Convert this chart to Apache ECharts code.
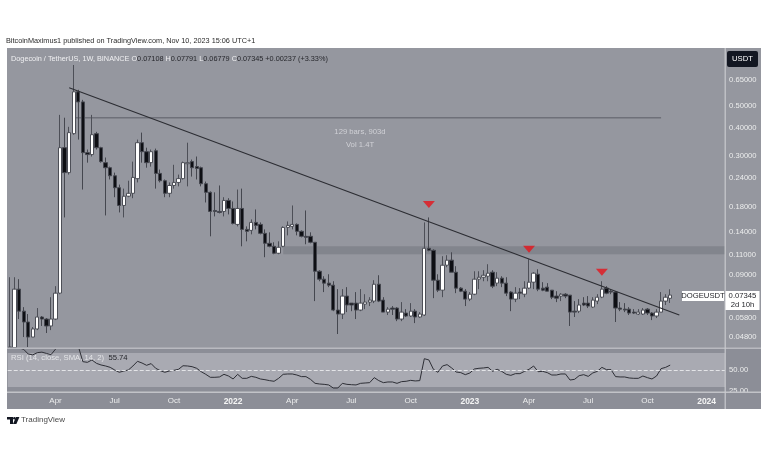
<!DOCTYPE html>
<html>
<head>
<meta charset="utf-8">
<style>html,body{margin:0;background:#fff}#main{width:768px;height:463px}</style>
<script src="https://cdn.jsdelivr.net/npm/echarts@6/dist/echarts.min.js"></script>
</head>
<body>
<div id="main"></div>
<script>
// weekly bars
var opens = [.0431,.0431,.0780,.0624,.0559,.0480,.0521,.0588,.0576,.0537,.0576,.0749,.327,.254,.377,.576,.520,.311,.305,.377,.327,.281,.267,.246,.218,.1821,.200,.206,.239,.344,.314,.281,.317,.252,.234,.206,.223,.230,.239,.278,.284,.270,.267,.227,.208,.1731,.1714,.1714,.1916,.1767,.1503,.1767,.1429,.1415,.1534,.1503,.1373,.1241,.1204,.1122,.1204,.1458,.1473,.1503,.1401,.1332,.1332,.1254,.0935,.0863,.0829,.0812,.0631,.0606,.0727,.0677,.0677,.0631,.0670,.0684,.0691,.0820,.0698,.0618,.0644,.0644,.0576,.0612,.0594,.0624,.0588,.0600,.1180,.1156,.0854,.0772,.0994,.1046,.0926,.0788,.0764,.0705,.0741,.0863,.0880,.0889,.0926,.0829,.0872,.0829,.0757,.0705,.0757,.0741,.0788,.0837,.0907,.0788,.0796,.0772,.0727,.0727,.0741,.0734,.0624,.0624,.0677,.0677,.0650,.0691,.0719,.0788,.0764,.0757,.0644,.0637,.0637,.0618,.0606,.0606,.0637,.0612,.0594,.0618,.0691,.07108];
var closes = [.0434,.0780,.0624,.0559,.0480,.0521,.0588,.0576,.0537,.0576,.0749,.327,.254,.381,.576,.520,.311,.305,.373,.327,.284,.267,.246,.218,.1821,.200,.206,.242,.344,.314,.281,.314,.252,.234,.206,.223,.230,.239,.281,.281,.267,.265,.227,.208,.1714,.1714,.1697,.1916,.1767,.1518,.1767,.1429,.1401,.1534,.1488,.1373,.1241,.1204,.1122,.1192,.1458,.1488,.1503,.1401,.1332,.1318,.1254,.0935,.0863,.0829,.0812,.0631,.0606,.0727,.0664,.0664,.0631,.0677,.0684,.0698,.0820,.0691,.0618,.0637,.0637,.0576,.0618,.0594,.0624,.0588,.0606,.1180,.1156,.0854,.0772,.0994,.1046,.0926,.0788,.0764,.0705,.0741,.0863,.0880,.0898,.0917,.0804,.0872,.0829,.0749,.0705,.0749,.0749,.0788,.0837,.0917,.0780,.0772,.0764,.0719,.0712,.0741,.0727,.0618,.0618,.0664,.0664,.0657,.0698,.0719,.0780,.0749,.0757,.0644,.0637,.0631,.0612,.0612,.0618,.0631,.0612,.0594,.0618,.0691,.0719,.07345];
var lows = [.0431,.0431,.0576,.0480,.0434,.0480,.0515,.0537,.0500,.0515,.0570,.0741,.1613,.249,.373,.355,.214,.281,.299,.321,.281,.1646,.237,.198,.1697,.1613,.198,.196,.230,.281,.267,.270,.216,.230,.198,.198,.216,.221,.237,.221,.244,.237,.221,.1877,.1332,.1630,.1680,.1630,.1663,.1503,.1473,.1204,.1266,.1359,.1429,.1359,.1078,.1192,.1111,.1111,.1192,.1345,.1429,.1345,.1318,.1229,.1241,.0691,.0845,.0757,.0796,.0624,.0495,.0576,.0618,.0624,.0576,.0624,.0637,.0657,.0677,.0684,.0618,.0600,.0600,.0564,.0564,.0588,.0588,.0553,.0582,.0594,.1145,.0712,.0757,.0719,.0974,.0926,.0749,.0757,.0657,.0691,.0734,.0780,.0845,.0845,.0788,.0804,.0796,.0727,.0624,.0684,.0705,.0719,.0780,.0780,.0764,.0764,.0764,.0705,.0684,.0691,.0712,.0537,.0588,.0612,.0657,.0644,.0644,.0670,.0712,.0741,.0741,.0559,.0624,.0618,.0600,.0606,.0600,.0600,.0600,.0570,.0582,.0618,.0664,.06779];
var highs = [.0880,.0880,.0863,.0650,.0606,.0531,.0644,.0594,.0582,.0719,.0804,.456,.443,.404,.756,.588,.531,.321,.456,.384,.330,.296,.270,.254,.225,.216,.234,.284,.355,.381,.327,.321,.324,.262,.237,.230,.275,.249,.284,.344,.290,.299,.270,.232,.210,.208,.223,.198,.196,.1896,.214,.216,.1473,.1581,.1749,.1534,.1429,.1387,.1254,.1266,.1473,.1549,.1821,.1518,.1415,.1731,.1387,.1254,.0945,.0889,.0907,.0845,.0780,.0780,.0796,.0677,.0757,.0780,.0741,.0719,.0854,.0898,.0719,.0650,.0657,.0650,.0684,.0637,.0677,.0637,.0618,.1534,.1613,.1168,.0907,.1089,.1100,.1133,.0984,.0796,.0780,.0757,.0935,.0935,.0945,.1004,.0945,.0926,.0889,.0880,.0764,.0796,.0788,.0845,.1056,.0926,.0954,.0837,.0829,.0772,.0764,.0749,.0749,.0734,.0691,.0705,.0719,.0727,.0719,.0741,.0845,.0804,.0780,.0764,.0684,.0677,.0650,.0637,.0637,.0644,.0644,.0618,.0637,.0757,.0741,.07791];
var rsiValues = [82,80,76,74.3,68.8,67.8,70.4,71,69.5,68,74.5,90,85,87,90,78,59.8,59,61.8,57.8,55.9,54.7,53.1,50,47.3,48.8,50,54.7,60.2,58.2,55.5,57.5,52,49.2,47.3,48.8,49.6,50.8,55,54.7,53.9,52,48,44.9,41.4,41.4,41.8,44.9,42.9,39.4,44.9,40.2,40.2,42.5,41.4,39.4,38.6,37.5,36.7,40.2,44.9,45.3,45.3,44.1,42.2,42.2,39,34.3,33.5,33.1,32.4,28.8,28.8,34.3,33.1,32.7,32.4,34.3,34.7,35.1,41,37.5,35.1,35.9,35.9,34.3,36.3,36.7,37.8,37.1,37.5,63.3,61.8,50.8,47.3,54.7,56.3,52.4,47.6,46.9,44.5,46.5,51.2,52,52.4,53.1,48.4,50.8,48.4,44.9,43.7,45.7,45.7,48.4,50.8,54.7,48,48.4,46.9,44.1,44.1,45.3,45.3,38.2,39,43.3,44.5,42.5,46.5,48.4,53.1,50.4,50.4,42.2,41.8,41.8,40.6,40.2,40.2,42.9,41,39.4,42.9,51.6,53.1,55.74];

var weekCount = 158; // includes the empty weeks right of the last bar
var tickWeeks = [10,23,36,49,62,75,88,101,114,127,140,153];
var tickTexts = ['Apr','Jul','Oct','2022','Apr','Jul','Oct','2023','Apr','Jul','Oct','2024'];
var priceTicks = [0.65,0.5,0.4,0.3,0.24,0.18,0.14,0.11,0.09,0.058,0.048];
var rsiTicks = [25,50];
var trendLine = [[13,0.600],[147,0.0600]];
var measureLine = [[14,0.443],[143,0.443]];
var resistanceZone = [60,157,0.1204,0.1111];
var redMarkers = [[92,0.184],[114,0.1168],[130,0.0926]];

var categories = [];
for (var w = 0; w < weekCount; w++) {
    categories.push(new Date(Date.UTC(2021, 0, 25 + w * 7)).toISOString().slice(0, 10));
}
var candles = opens.map(function (o, i) { return [o, closes[i], lows[i], highs[i]]; });

var FONT = 'Liberation Sans';
var LIGHT = '#eceded';
var PANEL = '#95979f';
var DARKER = '#8c8e97';

var chart = echarts.init(document.getElementById('main'), null, { renderer: 'canvas' });
chart.setOption({
    animation: false,
    textStyle: { fontFamily: FONT },
    grid: [
        { left: 7.72, right: 40.9, top: 48, height: 300 },
        { left: 7.72, right: 40.9, top: 349, height: 43 }
    ],
    xAxis: [
        { type: 'category', gridIndex: 0, data: categories, boundaryGap: true, axisLine: { show: false }, axisTick: { show: false }, axisLabel: { show: false }, splitLine: { show: false } },
        {
            type: 'category', gridIndex: 1, data: categories, boundaryGap: true, z: 75,
            axisLine: { show: false }, axisTick: { show: false }, splitLine: { show: false },
            axisLabel: {
                margin: 5, fontSize: 8, color: LIGHT, hideOverlap: false,
                interval: function (i) { return tickWeeks.indexOf(i) >= 0; },
                formatter: function (v, i) {
                    var t = tickTexts[tickWeeks.indexOf(i)];
                    return t && t.length === 4 ? '{y|' + t + '}' : t;
                },
                rich: { y: { fontWeight: 'bold', fontSize: 8.5, color: '#f4f4f4' } }
            }
        }
    ],
    yAxis: [
        {
            type: 'log', gridIndex: 0, position: 'right', min: 0.04296, max: 0.898, z: 60,
            axisLine: { show: false }, axisTick: { show: false }, splitLine: { show: false },
            axisLabel: {
                customValues: priceTicks, margin: 2, fontSize: 7.6, color: LIGHT,
                formatter: function (v) { return Number(v).toFixed(5); }
            }
        },
        {
            type: 'value', gridIndex: 1, position: 'right', min: 24.1, max: 74.7, z: 60,
            axisLine: { show: false }, axisTick: { show: false }, splitLine: { show: false },
            axisLabel: {
                customValues: rsiTicks, margin: 2, fontSize: 7.6, color: LIGHT,
                formatter: function (v) { return Number(v).toFixed(2); }
            }
        }
    ],
    series: [
        {
            // grey resistance zone behind the bars
            type: 'line', xAxisIndex: 0, yAxisIndex: 0, data: [], z: 1, silent: true,
            markArea: {
                silent: true, itemStyle: { color: '#7f8189', opacity: 0.85 },
                data: [[{ xAxis: resistanceZone[0], yAxis: resistanceZone[2] }, { xAxis: resistanceZone[1], yAxis: resistanceZone[3] }]]
            }
        },
        {
            type: 'line', xAxisIndex: 0, yAxisIndex: 0, data: measureLine, z: 1, symbol: 'none',
            lineStyle: { color: '#6e7079', width: 1.6 }
        },
        {
            type: 'candlestick', xAxisIndex: 0, yAxisIndex: 0, data: candles, barWidth: 3.8, z: 3,
            itemStyle: { color: '#ffffff', color0: '#0e0f14', borderColor: '#4d4f57', borderColor0: '#45474f', borderWidth: 1 }
        },
        {
            type: 'line', xAxisIndex: 0, yAxisIndex: 0, data: trendLine, z: 4, symbol: 'none',
            lineStyle: { color: '#2c2d33', width: 1.1 }
        },
        {
            type: 'scatter', xAxisIndex: 0, yAxisIndex: 0, data: redMarkers, z: 5,
            symbol: 'triangle', symbolRotate: 180, symbolSize: [12, 7],
            itemStyle: { color: '#e5141c' }
        },
        {
            type: 'line', xAxisIndex: 1, yAxisIndex: 1, data: rsiValues, z: 4, symbol: 'none',
            lineStyle: { color: '#2e2f36', width: 1 },
            markArea: {
                silent: true, itemStyle: { color: '#a9aab2', opacity: 1 },
                data: [[{ yAxis: 70 }, { yAxis: 30 }]]
            },
            markLine: {
                silent: true, symbol: 'none', label: { show: false },
                lineStyle: { color: '#e3e4e7', type: 'dashed', width: 1 },
                data: [{ yAxis: 50 }]
            }
        }
    ],
    graphic: [
        { type: 'rect', z: -1, shape: { x: 7, y: 48, width: 754, height: 300 }, style: { fill: PANEL } },
        { type: 'rect', z: -1, shape: { x: 7, y: 349, width: 754, height: 60 }, style: { fill: DARKER } },
        // right price column sits over the grid, labels above it
        { type: 'rect', z: 50, shape: { x: 725, y: 48, width: 36, height: 300 }, style: { fill: PANEL } },
        { type: 'rect', z: 50, shape: { x: 725, y: 349, width: 36, height: 43 }, style: { fill: DARKER } },
        { type: 'rect', z: 70, shape: { x: 7, y: 392, width: 754, height: 17 }, style: { fill: DARKER } },
        { type: 'rect', z: 71, shape: { x: 7, y: 347.5, width: 754, height: 1.4 }, style: { fill: '#b9bac0' } },
        { type: 'rect', z: 71, shape: { x: 7, y: 391.5, width: 754, height: 1.4 }, style: { fill: '#c2c3c8' } },
        { type: 'rect', z: 71, shape: { x: 724.6, y: 48, width: 1.2, height: 361 }, style: { fill: '#c9cace' } },

        { type: 'text', z: 80, x: 6, y: 37, style: { text: 'BitcoinMaximus1 published on TradingView.com, Nov 10, 2023 15:06 UTC+1', font: '7.3px ' + FONT, fill: '#2b2b2b' } },
        {
            type: 'text', z: 80, x: 11, y: 55,
            style: {
                text: '{a|Dogecoin / TetherUS, 1W, BINANCE} {a|O}{d|0.07108} {a|H}{d|0.07791} {a|L}{d|0.06779} {a|C}{d|0.07345} {d|+0.00237 (+3.33%)}',
                font: '7.3px ' + FONT,
                rich: { a: { fill: '#f0f0f2', font: '7.3px ' + FONT }, d: { fill: '#26272c', font: '7.3px ' + FONT } }
            }
        },
        { type: 'text', z: 80, x: 360, y: 128, style: { text: '129 bars, 903d', font: '7.7px ' + FONT, fill: '#d0d1d6', align: 'center' } },
        { type: 'text', z: 80, x: 360, y: 141, style: { text: 'Vol 1.4T', font: '7.7px ' + FONT, fill: '#d0d1d6', align: 'center' } },
        {
            type: 'text', z: 80, x: 11, y: 354,
            style: {
                text: '{a|RSI (14, close, SMA, 14, 2)}  {d|55.74}',
                font: '7.7px ' + FONT,
                rich: { a: { fill: '#e4e5e8', font: '7.7px ' + FONT }, d: { fill: '#26272c', font: '7.7px ' + FONT } }
            }
        },

        { type: 'rect', z: 80, shape: { x: 727, y: 51, width: 31, height: 16, r: 2 }, style: { fill: '#131722' } },
        { type: 'text', z: 81, x: 742.5, y: 55, style: { text: 'USDT', font: '7.7px ' + FONT, fill: '#ffffff', align: 'center' } },

        { type: 'rect', z: 80, shape: { x: 682, y: 291, width: 42, height: 10 }, style: { fill: '#ffffff' } },
        { type: 'text', z: 81, x: 703, y: 292, style: { text: 'DOGEUSDT', font: '7.7px ' + FONT, fill: '#26272c', align: 'center' } },
        { type: 'rect', z: 80, shape: { x: 725.5, y: 291, width: 34, height: 19 }, style: { fill: '#ffffff' } },
        { type: 'text', z: 81, x: 742.5, y: 292, style: { text: '0.07345', font: '7.7px ' + FONT, fill: '#26272c', align: 'center' } },
        { type: 'text', z: 81, x: 742.5, y: 301, style: { text: '2d 10h', font: '7.7px ' + FONT, fill: '#26272c', align: 'center' } },

        // TradingView mark + name under the panel
        { type: 'polygon', z: 80, shape: { points: [[7, 417], [13, 417], [13, 424], [10, 424], [10, 419.4], [7, 419.4]] }, style: { fill: '#131722' } },
        { type: 'circle', z: 80, shape: { cx: 14.4, cy: 418.3, r: 1.3 }, style: { fill: '#131722' } },
        { type: 'polygon', z: 80, shape: { points: [[16, 417], [19.4, 417], [16.4, 424], [13, 424]] }, style: { fill: '#131722' } },
        { type: 'text', z: 80, x: 21, y: 416, style: { text: 'TradingView', font: '8px ' + FONT, fill: '#4a4a4a' } }
    ]
});
</script>
</body>
</html>
